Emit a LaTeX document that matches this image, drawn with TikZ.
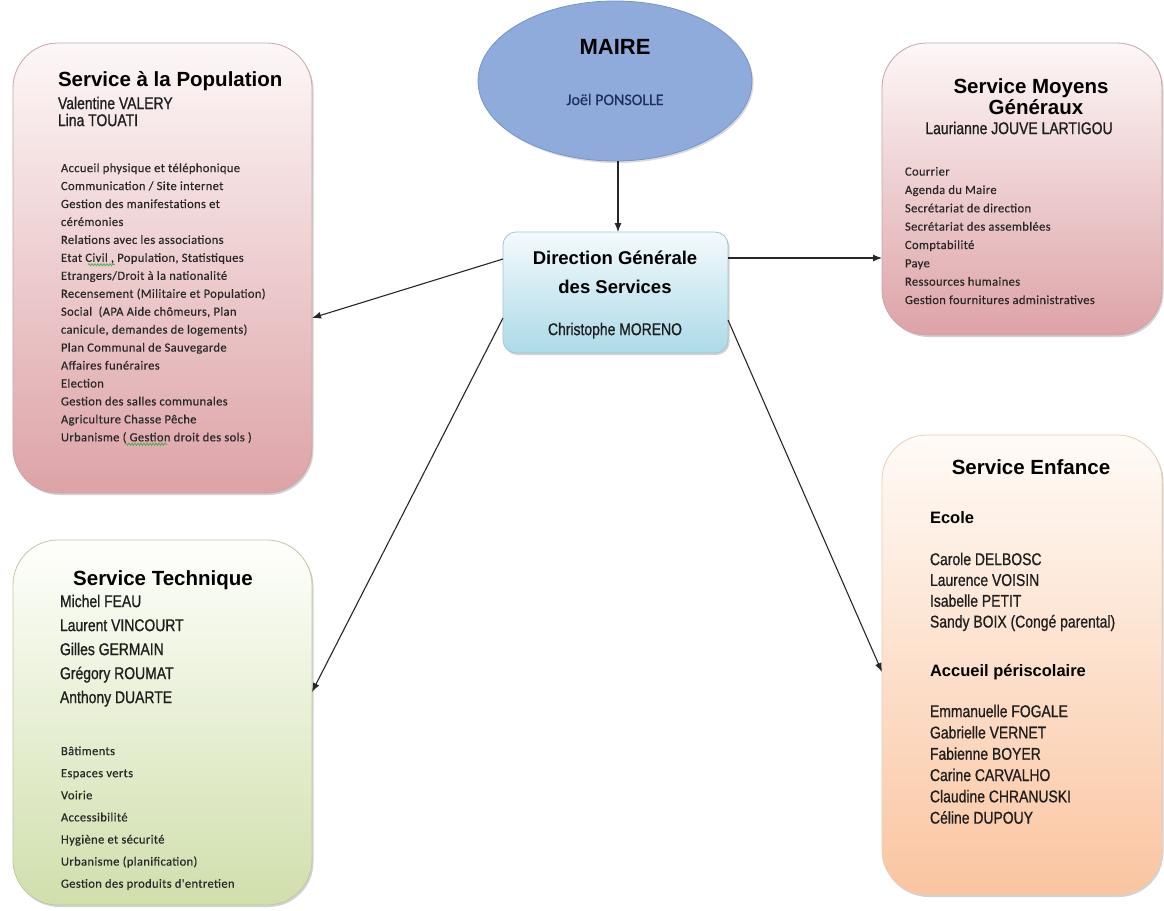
\documentclass[tikz,border=0pt]{standalone}
\usepackage{fontspec}
\setmainfont{Liberation Sans}
\newfontfamily\narrowfont[FakeStretch=0.82,FakeBold=0.8]{Liberation Sans}
\newfontfamily\calfont[LetterSpace=3,FakeBold=0.4]{Carlito}
\newfontfamily\calplain[FakeBold=0.5]{Carlito}
\usetikzlibrary{arrows.meta,shadows,calc,shapes.geometric,decorations.pathmorphing}

\definecolor{popTop}{RGB}{253,247,247}
\definecolor{popBot}{RGB}{221,163,167}
\definecolor{popLine}{RGB}{200,165,168}
\definecolor{techTop}{RGB}{254,255,252}
\definecolor{techBot}{RGB}{208,223,172}
\definecolor{techLine}{RGB}{190,200,165}
\definecolor{enfTop}{RGB}{255,251,247}
\definecolor{enfBot}{RGB}{250,197,160}
\definecolor{enfLine}{RGB}{232,205,185}
\definecolor{dgsTop}{RGB}{244,250,252}
\definecolor{dgsBot}{RGB}{172,218,232}
\definecolor{dgsLine}{RGB}{165,195,210}
\definecolor{maireFill}{RGB}{143,171,220}
\definecolor{maireLine}{RGB}{118,148,200}
\definecolor{nameCol}{RGB}{30,30,30}
\definecolor{itemCol}{RGB}{40,40,40}
\definecolor{navyCol}{RGB}{30,48,95}
\definecolor{spellCol}{RGB}{70,170,70}

\begin{document}
\begin{tikzpicture}[x=1pt,y=-1pt,
  bigbox/.style={draw, line width=0.8pt, rounded corners=45pt, inner sep=0pt, outer sep=0pt,
    drop shadow={shadow xshift=1.5pt, shadow yshift=-2pt, opacity=0.25, fill=black!70}},
  smallbox/.style={draw, line width=0.8pt, rounded corners=13pt, inner sep=0pt, outer sep=0pt,
    drop shadow={shadow xshift=1.5pt, shadow yshift=-2pt, opacity=0.25, fill=black!70}},
  tt/.style={inner sep=0pt, outer sep=0pt, text depth=0pt},
  ttl/.style={tt, text height=14.8pt, font=\bfseries\fontsize{20.5}{24}\selectfont},
  sub/.style={tt, text height=12pt, font=\bfseries\fontsize{16.5}{20}\selectfont},
  nm/.style={tt, text height=12.2pt, text=nameCol, font=\narrowfont\fontsize{17}{20}\selectfont},
  it/.style={tt, text height=8.2pt, text=itemCol, font=\calfont\fontsize{12.5}{15}\selectfont},
  arr/.style={draw=black!85, line width=1.1pt, -{Latex[length=9pt,width=7pt]}},
  squig/.style={draw=spellCol, line width=0.7pt, decorate,
    decoration={snake, amplitude=1.1pt, segment length=3pt}}
]
\useasboundingbox (0,0) rectangle (1164,910);

% boxes
\node[bigbox, draw=popLine, top color=popTop, bottom color=popBot,
  minimum width=299pt, minimum height=450pt] (pop) at (162.5,268) {};
\node[bigbox, draw=popLine, top color=popTop, bottom color=popBot,
  minimum width=280pt, minimum height=292pt] (moy) at (1022,189) {};
\node[bigbox, draw=techLine, top color=techTop, bottom color=techBot,
  minimum width=299pt, minimum height=365pt] (tech) at (162.5,722.5) {};
\node[bigbox, draw=enfLine, top color=enfTop, bottom color=enfBot,
  minimum width=280pt, minimum height=460pt] (enf) at (1022,665) {};
\node[smallbox, draw=dgsLine, top color=dgsTop, bottom color=dgsBot,
  minimum width=225pt, minimum height=121pt] (dgs) at (615.5,292.5) {};
\node[ellipse, draw=maireLine, line width=0.8pt, fill=maireFill, inner sep=0pt, outer sep=0pt,
  minimum width=274pt, minimum height=160pt,
  drop shadow={shadow xshift=1.5pt, shadow yshift=-2pt, opacity=0.2, fill=black!70}] (maire) at (615,81) {};

% MAIRE
\node[tt, text height=15.8pt, font=\bfseries\fontsize{22}{26}\selectfont] (mairet) at (615,47) {MAIRE};
\node[tt, text height=10pt, text=navyCol, font=\calplain\fontsize{16}{19}\selectfont] (mairen) at (615,100) {Joël PONSOLLE};

% DGS
\node[tt, text height=13.3pt, font=\bfseries\fontsize{18.5}{22}\selectfont] (dgst1) at (615,258) {Direction Générale};
\node[tt, text height=13.3pt, font=\bfseries\fontsize{18.5}{22}\selectfont] (dgst2) at (615,287) {des Services};
\node[nm] (dgsn) at (615,329) {Christophe MORENO};

% Population
\node[ttl, anchor=west] (popt) at (58,79) {Service à la Population};
\node[nm, anchor=west] (popn1) at (58,103) {Valentine VALERY};
\node[nm, anchor=west] (popn2) at (58,120) {Lina TOUATI};
\foreach \t [count=\i] in {Accueil physique et téléphonique, Communication / Site internet,
  Gestion des manifestations et, cérémonies, Relations avec les associations,
  {Etat Civil , Population, Statistiques}, Etrangers/Droit à la nationalité,
  Recensement (Militaire et Population), {Social~ (APA Aide chômeurs, Plan},
  {canicule, demandes de logements)}, Plan Communal de Sauvegarde, Affaires funéraires,
  Election, Gestion des salles communales, Agriculture Chasse Pêche,
  Urbanisme ( Gestion droit des sols )}
  \node[it, anchor=west] (popi\i) at (61,{168+(\i-1)*17.95}) {\t};
% grammar-check squiggles
\draw[squig] ($(popi6.west)+(27,7)$) -- ++(27,0);
\draw[squig] ($(popi16.west)+(64,7)$) -- ++(42,0);

% Moyens generaux
\node[ttl] (moyt1) at (1031,86) {Service Moyens};
\node[ttl] (moyt2) at (1036,107) {Généraux};
\node[nm] (moyn) at (1019,128) {Laurianne JOUVE LARTIGOU};
\foreach \t [count=\i] in {Courrier, Agenda du Maire, Secrétariat de direction,
  Secrétariat des assemblées, Comptabilité, Paye, Ressources humaines,
  Gestion fournitures administratives}
  \node[it, anchor=west] (moyi\i) at (905,{171.5+(\i-1)*18.35}) {\t};

% Technique
\node[ttl] (techt) at (163,578) {Service Technique};
\foreach \t [count=\i] in {Michel FEAU, Laurent VINCOURT, Gilles GERMAIN, Grégory ROUMAT, Anthony DUARTE}
  \node[nm, anchor=west] (techn\i) at (60,{601+(\i-1)*24}) {\t};
\foreach \t [count=\i] in {Bâtiments, Espaces verts, Voirie, Accessibilité, Hygiène et sécurité,
  Urbanisme (planification), Gestion des produits d'entretien}
  \node[it, anchor=west] (techi\i) at (61,{751+(\i-1)*22.1}) {\t};

% Enfance
\node[ttl] (enft) at (1031,467) {Service Enfance};
\node[sub, anchor=west] (enfs1) at (930,517) {Ecole};
\foreach \t [count=\i] in {Carole DELBOSC, Laurence VOISIN, Isabelle PETIT, Sandy BOIX (Congé parental)}
  \node[nm, anchor=west] (enfa\i) at (930,{559+(\i-1)*20.8}) {\t};
\node[sub, anchor=west] (enfs2) at (930,670) {Accueil périscolaire};
\foreach \t [count=\i] in {Emmanuelle FOGALE, Gabrielle VERNET, Fabienne BOYER, Carine CARVALHO,
  Claudine CHRANUSKI, Céline DUPOUY}
  \node[nm, anchor=west] (enfb\i) at (930,{711+(\i-1)*21.3}) {\t};

% connectors
\draw[arr] ($(maire.south)+(3,0)$) -- ($(dgs.north)+(2.5,0)$);
\draw[arr] ($(dgs.west)+(0,-33.5)$) -- ($(pop.east)+(0,50)$);
\draw[arr] ($(dgs.east)+(0,-34.5)$) -- ($(moy.west)+(0,69)$);
\draw[arr] ($(dgs.west)+(0,25.5)$) -- ($(tech.east)+(0,-30.5)$);
\draw[arr] ($(dgs.east)+(0,27.5)$) -- ($(enf.west)+(0,7)$);
\end{tikzpicture}
\end{document}
